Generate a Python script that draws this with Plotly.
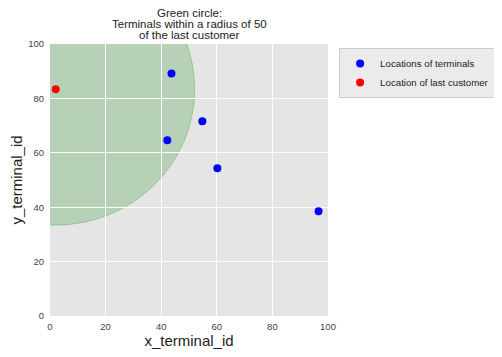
import plotly.graph_objects as go

x_terminals = [43.7, 42.2, 54.8, 60.2, 96.6]
y_terminals = [89.2, 64.6, 71.6, 54.3, 38.5]
x_customer = [2.05]
y_customer = [83.4]
radius = 50

title_lines = ["Green circle:", "Terminals within a radius of 50", "of the last customer"]

fig = go.Figure()
fig.add_shape(type="circle", xref="x", yref="y",
              x0=x_customer[0] - radius, x1=x_customer[0] + radius,
              y0=y_customer[0] - radius, y1=y_customer[0] + radius,
              fillcolor="rgba(0,128,0,0.2)", line=dict(color="rgba(0,128,0,0.25)", width=1),
              layer="below")
fig.add_trace(go.Scatter(x=x_terminals, y=y_terminals, mode="markers",
                         name="Locations of terminals",
                         marker=dict(color="#0000ff", size=8)))
fig.add_trace(go.Scatter(x=x_customer, y=y_customer, mode="markers",
                         name="Location of last customer",
                         marker=dict(color="#ff0000", size=8)))

shifts = [31.5, 20.5, 9.5]
for line, s in zip(title_lines, shifts):
    fig.add_annotation(text=line, xref="paper", yref="paper",
                       x=0.5, y=1, xanchor="center", yanchor="middle", yshift=s,
                       showarrow=False, font=dict(size=11.5, color="#222"))

fig.update_layout(
    width=494, height=349,
    margin=dict(l=42, r=174, t=36, b=41, autoexpand=False),
    paper_bgcolor="white", plot_bgcolor="#e5e5e5",
    font=dict(family="Liberation Sans, Arial, sans-serif", color="#333"),
    showlegend=True,
    legend=dict(x=1.04, y=0.985, xanchor="left", yanchor="top",
                bgcolor="#ebebeb", bordercolor="#cccccc", borderwidth=1,
                font=dict(size=9.7, color="#222"), itemwidth=30,
                tracegroupgap=0),
)
fig.update_xaxes(range=[0, 100], dtick=20, showgrid=True, gridcolor="white", gridwidth=1,
                 zeroline=False, showline=False, ticks="", ticklabelstandoff=3,
                 tickfont=dict(size=9.5, color="#444"),
                 title=dict(text="x_terminal_id", font=dict(size=15, color="#222"), standoff=3))
fig.update_yaxes(range=[0, 100], dtick=20, showgrid=True, gridcolor="white", gridwidth=1,
                 zeroline=False, showline=False, ticks="", ticklabelstandoff=5,
                 tickfont=dict(size=9.5, color="#444"),
                 title=dict(text="y_terminal_id", font=dict(size=15, color="#222"), standoff=6))

fig.write_html("out.html")
